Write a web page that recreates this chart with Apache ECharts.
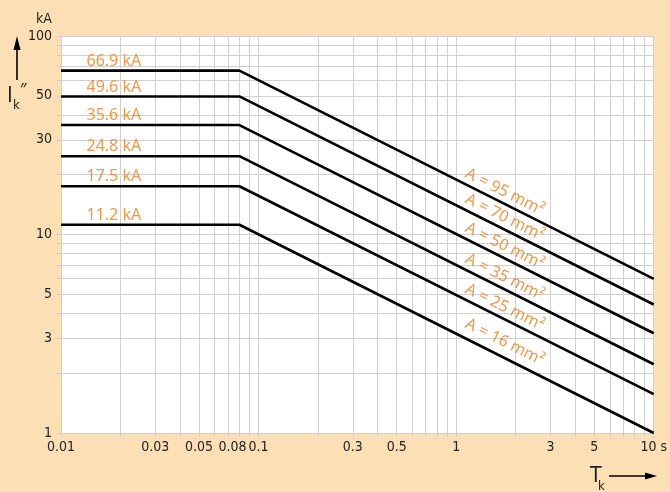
<!DOCTYPE html>
<html>
<head>
<meta charset="utf-8">
<script src="https://cdn.jsdelivr.net/npm/echarts@6/dist/echarts.min.js"></script>
<style>
html,body{margin:0;padding:0;background:#fddfb6;}
#chart{width:670px;height:492px;}
</style>
</head>
<body>
<div id="chart"></div>
<script>
// ---- data ----
const crossSectionLabels = ['A = 95 mm²', 'A = 70 mm²', 'A = 50 mm²', 'A = 35 mm²', 'A = 25 mm²', 'A = 16 mm²'];
const shortCircuitKA = [66.9, 49.6, 35.6, 24.8, 17.5, 11.2];   // flat level (kA)
const kneeTime = 0.08;                                             // s, end of flat part
const endTime = 10;                                                // s
const currentAtEndKA = [5.98, 4.44, 3.18, 2.22, 1.57, 1.0];        // kA at 10 s
const startTime = 0.01;
const areaLabelTime = 1.76;
const areaLabelKA = [16.4, 12.2, 8.75, 6.1, 4.3, 2.87];

const xLabelValues = [0.01, 0.03, 0.05, 0.08, 0.1, 0.3, 0.5, 1, 3, 5, 10];
const xGridValues = [0.01, 0.02, 0.03, 0.04, 0.05, 0.06, 0.07, 0.08, 0.09,
                     0.1, 0.2, 0.3, 0.4, 0.5, 0.6, 0.7, 0.8, 0.9,
                     1, 2, 3, 4, 5, 6, 7, 8, 9, 10];
const yLabelValues = [1, 3, 5, 10, 30, 50, 100];
const yGridValues = [1, 2, 3, 4, 5, 6, 7, 8, 9, 10, 20, 30, 40, 50, 60, 70, 80, 90, 100];

// ---- styles ----
const ORANGE = '#ec7d22';
const GRID = '#d0d0d0';
const FONT = "'Noto Sans', 'Open Sans', sans-serif";
const TICKFONT = "'Liberation Sans Narrow', 'DejaVu Sans Condensed', 'Noto Sans', sans-serif";

const chart = echarts.init(document.getElementById('chart'), null, {renderer: 'canvas'});

const curveSeries = shortCircuitKA.map((ka, i) => ({
  type: 'line',
  name: crossSectionLabels[i],
  data: [[startTime, ka], [kneeTime, ka], [endTime, currentAtEndKA[i]]],
  symbol: 'none',
  lineStyle: {color: '#000', width: 2.6},
  z: 5,
  silent: true,
  animation: false
}));

const levelLabelSeries = {
  type: 'scatter',
  data: shortCircuitKA.map(ka => [startTime, ka]),
  symbolSize: 1,
  itemStyle: {color: 'rgba(0,0,0,0)'},
  label: {
    show: true,
    position: [26, -1],
    align: 'left',
    verticalAlign: 'bottom',
    formatter: p => p.value[1].toFixed(1) + ' kA',
    color: ORANGE,
    fontSize: 16,
    lineHeight: 16,
    fontFamily: FONT
  },
  z: 6,
  silent: true,
  animation: false
};

const areaLabelSeries = {
  type: 'scatter',
  data: areaLabelKA.map((ka, i) => ({value: [areaLabelTime, ka], name: crossSectionLabels[i]})),
  symbolSize: 1,
  itemStyle: {color: 'rgba(0,0,0,0)'},
  label: {
    show: true,
    position: 'inside',
    align: 'center',
    verticalAlign: 'middle',
    rotate: -26.5,
    formatter: p => p.name,
    color: ORANGE,
    fontSize: 16,
    fontFamily: FONT
  },
  z: 6,
  silent: true,
  animation: false
};

const option = {
  animation: false,
  backgroundColor: '#fddfb6',
  grid: {
    left: 61, top: 36, width: 596, height: 397,
    show: true, backgroundColor: '#ffffff', borderWidth: 0
  },
  xAxis: {
    type: 'log', logBase: 10, min: 0.01, max: 10,
    axisLine: {show: true, lineStyle: {color: GRID, width: 1}},
    axisTick: {show: true, length: 4, lineStyle: {color: GRID}, customValues: xGridValues},
    splitLine: {show: true, lineStyle: {color: GRID, width: 1}},
    axisLabel: {
      customValues: xLabelValues,
      margin: 7,
      fontSize: 14,
      fontFamily: TICKFONT,
      color: '#222',
      formatter: v => (v === 10 ? '10 s' : v === 0.08 ? '{l|0.08}' : String(v)),
      rich: {l: {fontSize: 14, fontFamily: TICKFONT, color: '#222', padding: [0, 14, 0, 0]}}
    }
  },
  yAxis: {
    type: 'log', logBase: 10, min: 1, max: 100,
    axisLine: {show: true, lineStyle: {color: GRID, width: 1}},
    axisTick: {show: true, length: 4, lineStyle: {color: GRID}, customValues: yGridValues},
    splitLine: {show: true, lineStyle: {color: GRID, width: 1}},
    axisLabel: {
      customValues: yLabelValues,
      margin: 9,
      fontSize: 14,
      fontFamily: TICKFONT,
      color: '#222',
      formatter: v => String(v)
    }
  },
  series: [...curveSeries, levelLabelSeries, areaLabelSeries],
  graphic: [
    // y axis name
    {type: 'text', left: 36, top: 12, style: {text: 'kA', font: '14px ' + TICKFONT, fill: '#222'}},
    {type: 'line', shape: {x1: 17, y1: 80, x2: 17, y2: 48}, style: {stroke: '#000', lineWidth: 1.6}},
    {type: 'polygon', shape: {points: [[17, 36], [13.5, 50], [20.5, 50]]}, style: {fill: '#000'}},
    {type: 'rect', shape: {x: 9, y: 86, width: 1.8, height: 16}, style: {fill: '#222'}},
    {type: 'text', x: 13, y: 99, style: {text: 'k', font: '13px ' + TICKFONT, fill: '#222'}},
    {type: 'text', x: 20, y: 82, style: {text: '″', font: '16px ' + FONT, fill: '#222'}},
    // x axis name
    {type: 'text', x: 590, y: 466, style: {text: 'T', font: '21px ' + TICKFONT, fill: '#222'}},
    {type: 'text', x: 598, y: 480, style: {text: 'k', font: '13px ' + TICKFONT, fill: '#222'}},
    {type: 'line', shape: {x1: 609, y1: 476, x2: 648, y2: 476}, style: {stroke: '#000', lineWidth: 1.4}},
    {type: 'polygon', shape: {points: [[657, 476], [645, 472.5], [645, 479.5]]}, style: {fill: '#000'}}
  ]
};

chart.setOption(option);
</script>
</body>
</html>
